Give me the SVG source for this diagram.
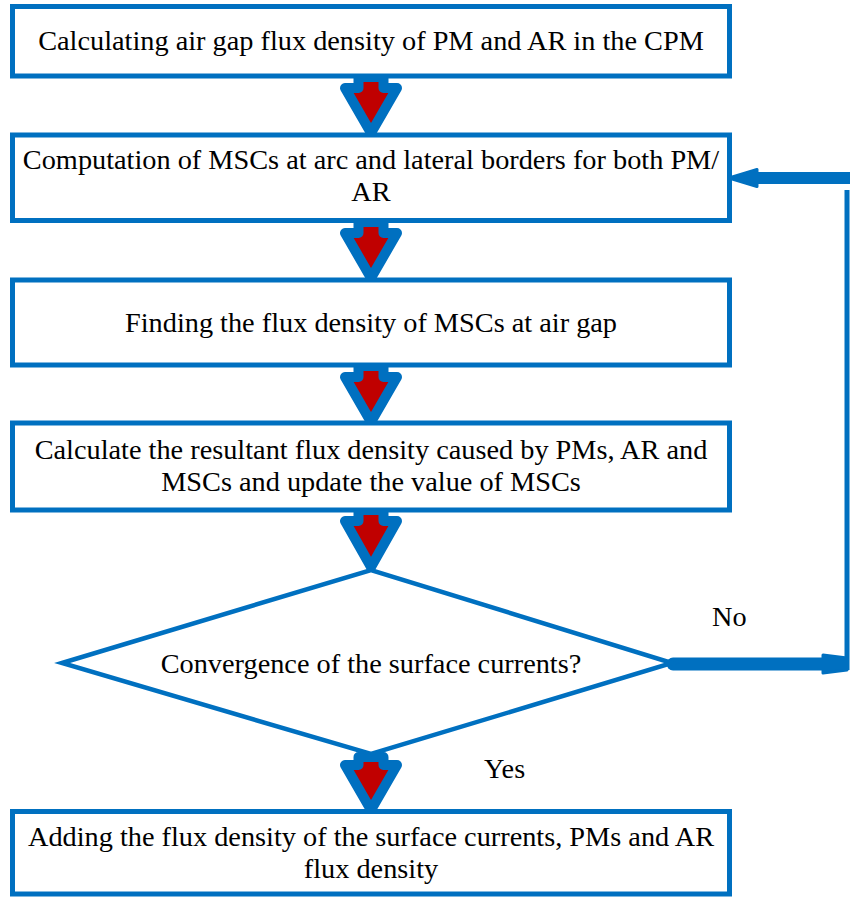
<svg xmlns="http://www.w3.org/2000/svg" width="850" height="897" viewBox="0 0 850 897">
<style>
.box{fill:#fff;stroke:#0070C0;stroke-width:5}
.dia{fill:#fff;stroke:#0070C0;stroke-width:4.5;stroke-linejoin:miter}
.arr{fill:#C00000;stroke:#0070C0;stroke-width:10;stroke-linejoin:round}
.fb{stroke:#0070C0;fill:none}
.head{fill:#0070C0;stroke:#0070C0;stroke-width:3;stroke-linejoin:round}
</style>
<rect width="850" height="897" fill="#fff"/>
<g id="connectors">
<path class="arr" d="M358.5,77 H383.5 V88 H397 L371,133 L345,88 H358.5 Z"/>
<path class="arr" d="M358.5,222 H383.5 V233 H397 L371,278 L345,233 H358.5 Z"/>
<path class="arr" d="M358.5,366 H383.5 V377 H397 L371,422 L345,377 H358.5 Z"/>
<path class="arr" d="M358.5,510 H383.5 V521 H397 L371,567 L345,521 H358.5 Z"/>
<path class="arr" d="M358.5,757 H383.5 V765 H397 L371,810 L345,765 H358.5 Z"/>
<line class="fb" x1="673" y1="664" x2="840" y2="664" stroke-width="13" stroke-linecap="round"/>
<polygon class="head" points="823,655 847,658 847,670 823,673"/>
<line class="fb" x1="847" y1="190" x2="847" y2="670" stroke-width="5"/>
<line class="fb" x1="757" y1="178" x2="860" y2="178" stroke-width="12"/>
<polygon class="head" points="729,178 757,169.5 757,186.5"/>
</g>
<g font-family="Liberation Serif" font-size="28.3" fill="#000" text-anchor="middle">
<g id="n1">
<rect class="box" x="12.5" y="6.5" width="717" height="69.5"/>
<text x="371" y="50">Calculating air gap flux density of PM and AR in the CPM</text>
</g>
<g id="n2">
<rect class="box" x="12.5" y="135" width="717" height="85.5"/>
<text x="371" y="169">Computation of MSCs at arc and lateral borders for both PM/</text>
<text x="371" y="201">AR</text>
</g>
<g id="n3">
<rect class="box" x="12.5" y="280" width="717" height="85"/>
<text x="371" y="332">Finding the flux density of MSCs at air gap</text>
</g>
<g id="n4">
<rect class="box" x="12.5" y="423" width="717" height="87"/>
<text x="371" y="459">Calculate the resultant flux density caused by PMs, AR and</text>
<text x="371" y="491">MSCs and update the value of MSCs</text>
</g>
<g id="n5">
<polygon class="dia" points="62,663 371,570 672,663 371,754"/>
<text x="371" y="673">Convergence of the surface currents?</text>
</g>
<g id="n6">
<rect class="box" x="12.5" y="811.5" width="717" height="82.5"/>
<text x="371" y="846">Adding the flux density of the surface currents, PMs and AR</text>
<text x="371" y="878">flux density</text>
</g>
<g id="labels" text-anchor="start">
<text x="712" y="626">No</text>
<text x="484" y="778">Yes</text>
</g>
</g>
</svg>
